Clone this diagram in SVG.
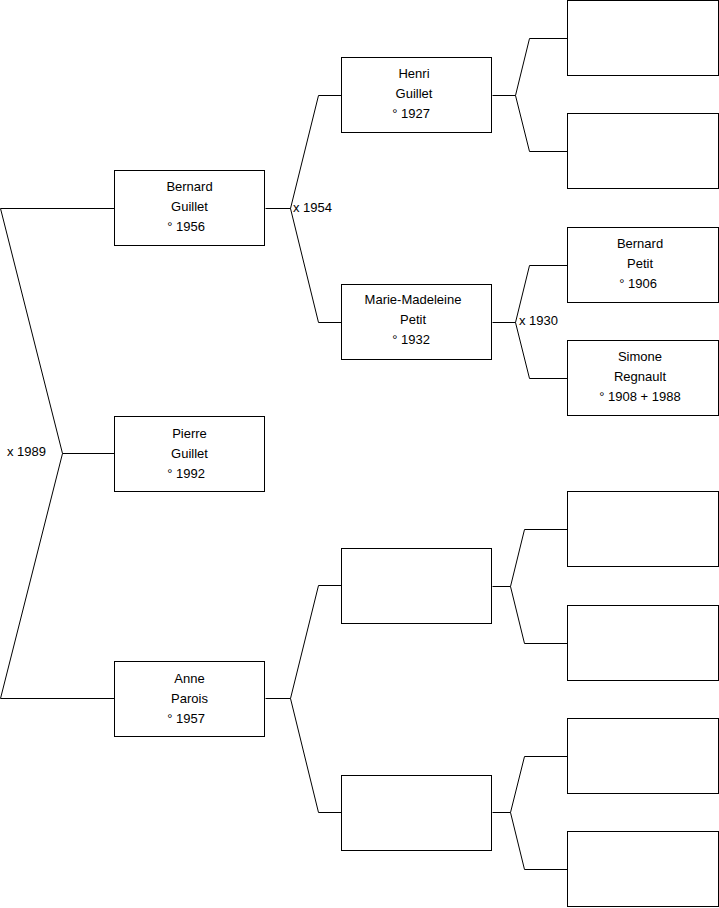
<svg xmlns="http://www.w3.org/2000/svg" width="719" height="908" viewBox="0 0 719 908">
<style>
.box{fill:#fff;stroke:#000;stroke-width:1}
.ln{fill:none;stroke:#000;stroke-width:1}
text{font-family:"Liberation Sans",Arial,sans-serif;font-size:13px;fill:#000}
.c{text-anchor:middle}
</style>
<rect width="719" height="908" fill="#fff"/>
<g id="connectors">
<path class="ln" d="M0.5,208.5 H114.5 M0.5,208.5 L62.5,453.5 L0.5,698.5 H114.5 M62.5,453.5 H114.5"/>
<path class="ln" d="M265.5,208.5 H290.5 M318.5,95.5 L290.5,208.5 L318.5,322.5 M318.5,95.5 H341.5 M318.5,322.5 H341.5"/>
<path class="ln" d="M265.5,698.5 H290.5 M318.5,585.5 L290.5,698.5 L318.5,812.5 M318.5,585.5 H341.5 M318.5,812.5 H341.5"/>
<path class="ln" d="M492.5,95.5 H515.5 M529.5,38.5 L515.5,95.5 L529.5,151.5 M529.5,38.5 H567.5 M529.5,151.5 H567.5"/>
<path class="ln" d="M492.5,322.5 H515.5 M529.5,265.5 L515.5,322.5 L529.5,378.5 M529.5,265.5 H567.5 M529.5,378.5 H567.5"/>
<path class="ln" d="M492.5,586.5 H510.5 M524.5,529.5 L510.5,586.5 L524.5,643.5 M524.5,529.5 H567.5 M524.5,643.5 H567.5"/>
<path class="ln" d="M492.5,812.5 H510.5 M524.5,756.5 L510.5,812.5 L524.5,869.5 M524.5,756.5 H567.5 M524.5,869.5 H567.5"/>
<text x="7" y="456">x 1989</text>
<text x="293" y="212">x 1954</text>
<text x="519" y="325">x 1930</text>
</g>
<g id="bernard-guillet">
<rect class="box" x="114.5" y="170.5" width="150" height="75"/>
<text class="c" x="189.5" y="191">Bernard</text>
<text class="c" x="189.5" y="211">Guillet</text>
<text class="c" x="186" y="231">° 1956</text>
</g>
<g id="pierre-guillet">
<rect class="box" x="114.5" y="416.5" width="150" height="75"/>
<text class="c" x="189.5" y="438">Pierre</text>
<text class="c" x="189.5" y="458">Guillet</text>
<text class="c" x="186" y="478">° 1992</text>
</g>
<g id="anne-parois">
<rect class="box" x="114.5" y="661.5" width="150" height="75"/>
<text class="c" x="189.5" y="683">Anne</text>
<text class="c" x="189.5" y="703">Parois</text>
<text class="c" x="186" y="723">° 1957</text>
</g>
<g id="henri-guillet">
<rect class="box" x="341.5" y="57.5" width="150" height="75"/>
<text class="c" x="414" y="78">Henri</text>
<text class="c" x="414" y="98">Guillet</text>
<text class="c" x="411" y="118">° 1927</text>
</g>
<g id="marie-madeleine-petit">
<rect class="box" x="341.5" y="284.5" width="150" height="75"/>
<text class="c" x="413" y="304">Marie-Madeleine</text>
<text class="c" x="413" y="324">Petit</text>
<text class="c" x="411" y="344">° 1932</text>
</g>
<g id="unknown-1">
<rect class="box" x="341.5" y="548.5" width="150" height="75"/>
</g>
<g id="unknown-2">
<rect class="box" x="341.5" y="775.5" width="150" height="75"/>
</g>
<g id="gp-1"><rect class="box" x="567.5" y="0.5" width="151" height="75"/></g>
<g id="gp-2"><rect class="box" x="567.5" y="113.5" width="151" height="75"/></g>
<g id="bernard-petit">
<rect class="box" x="567.5" y="227.5" width="151" height="75"/>
<text class="c" x="640" y="248">Bernard</text>
<text class="c" x="640" y="268">Petit</text>
<text class="c" x="638" y="288">° 1906</text>
</g>
<g id="simone-regnault">
<rect class="box" x="567.5" y="340.5" width="151" height="75"/>
<text class="c" x="640" y="361">Simone</text>
<text class="c" x="640" y="381">Regnault</text>
<text class="c" x="640" y="401">° 1908 + 1988</text>
</g>
<g id="gp-5"><rect class="box" x="567.5" y="491.5" width="151" height="75"/></g>
<g id="gp-6"><rect class="box" x="567.5" y="605.5" width="151" height="75"/></g>
<g id="gp-7"><rect class="box" x="567.5" y="718.5" width="151" height="75"/></g>
<g id="gp-8"><rect class="box" x="567.5" y="831.5" width="151" height="75"/></g>
</svg>
